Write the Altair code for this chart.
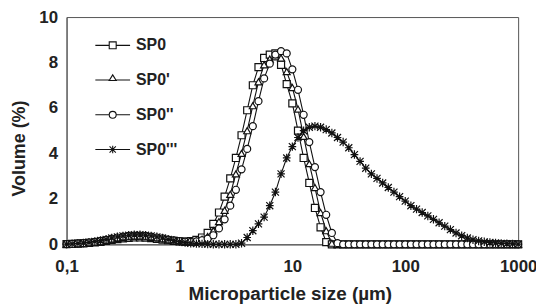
import altair as alt
import pandas as pd

# Particle size classes (µm), logarithmic bins
sizes = [0.1, 0.112, 0.126, 0.141, 0.158, 0.178, 0.2, 0.224, 0.251, 0.282,
         0.316, 0.355, 0.398, 0.447, 0.501, 0.562, 0.631, 0.708, 0.794, 0.891,
         1, 1.122, 1.259, 1.413, 1.585, 1.778, 1.995, 2.239, 2.512, 2.818,
         3.162, 3.548, 3.981, 4.467, 5.012, 5.623, 6.31, 7.079, 7.943, 8.913,
         10, 11.22, 12.59, 14.13, 15.85, 17.78, 19.95, 22.39, 25.12, 28.18,
         31.62, 35.48, 39.81, 44.67, 50.12, 56.23, 63.1, 70.79, 79.43, 89.13,
         100, 112.2, 125.9, 141.3, 158.5, 177.8, 199.5, 223.9, 251.2, 281.8,
         316.2, 354.8, 398.1, 446.7, 501.2, 562.3, 631, 707.9, 794.3, 891.3,
         1000]

sp0 = [0.01, 0.02, 0.03, 0.04, 0.06, 0.08, 0.11, 0.15, 0.19, 0.23,
       0.26, 0.28, 0.3, 0.3, 0.29, 0.27, 0.24, 0.21, 0.18, 0.15,
       0.13, 0.12, 0.14, 0.2, 0.3, 0.5, 0.9, 1.4, 2.1, 2.9,
       3.8, 4.8, 5.9, 7.0, 7.8, 8.2, 8.35, 8.4, 7.9, 7.05,
       6.2, 5.0, 3.8, 2.7, 1.6, 0.75, 0.1] + [0] * 34

sp0_1 = [0.01, 0.02, 0.03, 0.05, 0.07, 0.1, 0.13, 0.17, 0.22, 0.26,
         0.3, 0.33, 0.34, 0.34, 0.33, 0.31, 0.28, 0.24, 0.2, 0.16,
         0.13, 0.11, 0.12, 0.15, 0.22, 0.35, 0.6, 1.0, 1.5, 2.2,
         3.1, 4.0, 5.0, 6.1, 7.15, 7.9, 8.15, 8.25, 8.2, 7.6,
         6.9, 5.95, 4.75, 3.55, 2.5, 1.4, 0.6, 0.05] + [0] * 33

sp0_2 = [0.01, 0.02, 0.04, 0.05, 0.08, 0.11, 0.15, 0.2, 0.25, 0.3,
         0.34, 0.37, 0.38, 0.38, 0.37, 0.34, 0.3, 0.26, 0.21, 0.17,
         0.14, 0.12, 0.11, 0.13, 0.18, 0.25, 0.4, 0.7, 1.1, 1.7,
         2.4, 3.3, 4.2, 5.2, 6.3, 7.3, 7.95, 8.35, 8.5, 8.4,
         7.7, 6.8, 5.7, 4.5, 3.4, 2.3, 1.3, 0.5, 0.05] + [0] * 32

sp0_3 = [0.01, 0.02, 0.04, 0.06, 0.09, 0.13, 0.17, 0.22, 0.28, 0.33,
         0.37, 0.4, 0.42, 0.42, 0.4, 0.37, 0.33, 0.28, 0.22, 0.17,
         0.12, 0.08, 0.05, 0.03, 0.02, 0.01, 0, 0, 0, 0,
         0, 0.05, 0.3, 0.6, 0.9, 1.2, 1.7, 2.3, 3.1, 3.8,
         4.3, 4.7, 5.0, 5.15, 5.2, 5.15, 5.05, 4.9, 4.7, 4.5,
         4.25, 3.95, 3.65, 3.35, 3.1, 2.9, 2.7, 2.5, 2.3, 2.1,
         1.9, 1.7, 1.55, 1.4, 1.25, 1.1, 0.95, 0.8, 0.65, 0.5,
         0.38, 0.28, 0.2, 0.15, 0.11, 0.08, 0.06, 0.04, 0.03, 0.02,
         0.01]

series_names = ["SP0", "SP0'", "SP0''", "SP0'''"]
series_values = [sp0, sp0_1, sp0_2, sp0_3]

rows = []
for name, vals in zip(series_names, series_values):
    for s, v in zip(sizes, vals):
        rows.append({"size": s, "volume": v, "series": name})
df = pd.DataFrame(rows)

FONT = "Liberation Sans"
TXT = "#222222"
INK = "#111111"

star = "M0,-1.2L0,1.2M-1,-1L1,1M-1,1L1,-1M-1.1,0L1.1,0"
marker_shapes = ["square", "triangle-up", "circle", star]
legend_shapes = [
    "M-1,0L-0.2,0M0.2,0L1,0M-0.2,-0.2L0.2,-0.2L0.2,0.2L-0.2,0.2Z",
    "M-1,0L-0.2,0M0.2,0L1,0M0,-0.3L0.2,0.02L-0.2,0.02Z",
    "M-1,0L-0.2,0M0.2,0L1,0M0.2,0A0.2,0.2 0 1,1 -0.2,0A0.2,0.2 0 1,1 0.2,0Z",
    "M-1,0L1,0M0,-0.22L0,0.22M-0.18,-0.18L0.18,0.18M-0.18,0.18L0.18,-0.18",
]

x = alt.X(
    "size:Q",
    scale=alt.Scale(type="log", domain=[0.1, 1000], nice=False),
    axis=alt.Axis(
        values=[0.1, 1, 10, 100, 1000],
        labelExpr="datum.value < 0.5 ? '0,1' : format(datum.value, 'd')",
        title="Microparticle size (µm)",
        ticks=False, tickSize=0, grid=False, labelFlush=False,
        labelPadding=14, labelFontSize=17, labelFont=FONT, labelFontWeight="bold",
        labelColor=TXT, domainColor="#555555",
        titleFont=FONT, titleFontSize=19, titleFontWeight="bold", titleColor=TXT,
        titleX=225, titleY=50, titleBaseline="middle", titleAlign="center",
    ),
)
y = alt.Y(
    "volume:Q",
    scale=alt.Scale(domain=[0, 10], nice=False),
    axis=alt.Axis(
        values=[0, 2, 4, 6, 8, 10],
        title="Volume (%)",
        ticks=False, tickSize=0, grid=False, labelFlush=False,
        labelPadding=9, labelFontSize=17, labelFont=FONT, labelFontWeight="bold",
        labelColor=TXT, domainColor="#555555",
        titleFont=FONT, titleFontSize=18, titleFontWeight="bold", titleColor=TXT,
        titleX=-47, titleY=132, titleBaseline="middle", titleAlign="center",
        titleAngle=270,
    ),
)

base = alt.Chart(df)

lines = base.mark_line(color=INK, strokeWidth=1.1).encode(
    x=x, y=y, detail="series:N"
)

points = base.mark_point(
    filled=True, fill="white", stroke=INK, strokeWidth=1.2, size=50, opacity=1
).encode(
    x=x, y=y,
    shape=alt.Shape("series:N",
                    scale=alt.Scale(domain=series_names, range=marker_shapes),
                    legend=None),
)

legend_layer = base.mark_point(opacity=0).encode(
    x=x, y=y,
    shape=alt.Shape(
        "series:N",
        scale=alt.Scale(domain=series_names, range=legend_shapes),
        legend=alt.Legend(
            title=None, orient="none", legendX=28, legendY=10,
            symbolSize=1225, symbolStrokeColor=INK, symbolFillColor="white",
            symbolStrokeWidth=1.1, symbolOpacity=1,
            labelFont=FONT, labelFontSize=16, labelFontWeight="bold",
            labelColor=TXT, labelOffset=5, rowPadding=8, padding=0,
        ),
    ),
)

chart = (
    alt.layer(lines, points, legend_layer)
    .resolve_scale(shape="independent")
    .properties(
        width=455, height=229,
        autosize=alt.AutoSizeParams(type="none"),
        padding={"left": 59, "top": 8, "right": 18, "bottom": 60},
    )
    .configure_view(stroke="#555555", strokeWidth=1)
)

chart.save("out.html", embed_options={"renderer": "svg", "actions": False})
